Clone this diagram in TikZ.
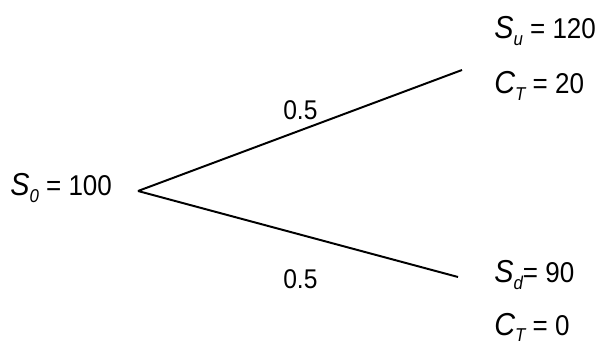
\documentclass[tikz,border=0pt]{standalone}
\usepackage{fontspec}
\setmainfont{Liberation Sans}
\newcommand{\lowsub}[1]{\raisebox{-0.45ex}{\fontsize{12}{12}\selectfont\itshape #1}}
\newcommand{\bigvar}[1]{{\fontsize{20.5}{22}\selectfont\itshape #1}}
\newcommand{\tallbox}[1]{\scalebox{1}[1.1]{#1}}
\tikzset{
  price/.style={anchor=base west, inner sep=0pt, font=\fontsize{18.5}{20}\selectfont},
  prob/.style={anchor=base west, inner sep=0pt, font=\fontsize{17.5}{20}\selectfont},
  branch/.style={line width=1.4pt}
}
\begin{document}
\begin{tikzpicture}[x=0.025cm, y=-0.025cm]
  \useasboundingbox (0,0) rectangle (599,347);
  \node[price] (s0) at (10,196) {\tallbox{\bigvar{S}\lowsub{0} = 100}};
  \coordinate (fork) at (138,191);
  \coordinate (up) at (462,70); \coordinate (down) at (458,277);
  \draw[branch] (fork) -- (up) (fork) -- (down);
  \node[prob] (pu) at (283,120) {\tallbox{0.5}};
  \node[prob] (pd) at (283,288) {\tallbox{0.5}};
  \node[price] (su) at (494,39) {\tallbox{\bigvar{S}\lowsub{u} = 120}};
  \node[price] (cu) at (494,94) {\tallbox{\bigvar{C}\lowsub{T} = 20}};
  \node[price] (sd) at (494,283) {\tallbox{\bigvar{S}\lowsub{d}= 90}};
  \node[price] (cd) at (494,335) {\tallbox{\bigvar{C}\lowsub{T} = 0}};
\end{tikzpicture}
\end{document}
